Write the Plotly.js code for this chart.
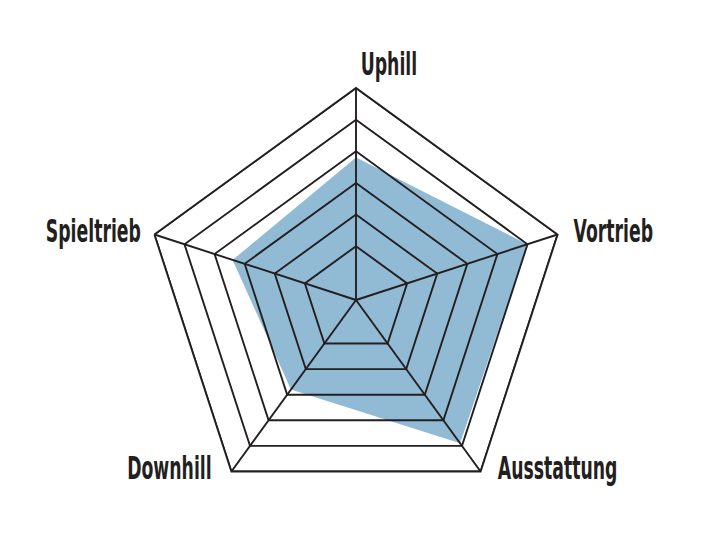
<!DOCTYPE html>
<html>
<head>
<meta charset="utf-8">
<script src="https://cdn.plot.ly/plotly-3.0.1.min.js"></script>
<style>
	html, body { margin: 0; padding: 0; background: #fff; }
	#chart { width: 712px; height: 545px; }
</style>
</head>
<body>
<div id="chart"></div>
<script>
// Ratings per category (rings 1..6)
const categories = ["Uphill", "Vortrieb", "Ausstattung", "Downhill", "Spieltrieb"];
const ratings = [3.8, 5.0, 4.9, 2.8, 3.4];
const levels = [1, 2, 3, 4, 5, 6];
const labelPos = ["top right", "middle right", "middle right", "middle left", "middle left"];
const labelGap = [6, 24, 26, 30, 20]; // invisible marker sizes push labels off the corners
const rMin = -0.7; // the centre sits a bit below ring 1
const rMax = 6;

const LINE = "#231f20";
const FONT = "'DejaVu Sans Condensed', 'Liberation Sans Narrow', sans-serif";
const squeeze = 0.6; // labels are set in a very narrow type

function closed(arr) {
	return arr.concat([arr[0]]);
}

const traces = [];

// shaded rating area, below the grid
traces.push({
	type: "scatterpolar",
	r: closed(ratings),
	theta: closed(categories),
	fill: "toself",
	fillcolor: "#91bad4",
	line: { width: 0, color: "#91bad4" },
	mode: "lines",
	hoverinfo: "skip",
	showlegend: false,
});

// rings drawn as traces so they sit above the fill
for (const lv of levels) {
	traces.push({
		type: "scatterpolar",
		r: closed(categories.map(() => lv)),
		theta: closed(categories),
		mode: "lines",
		line: { color: LINE, width: 1.9 },
		hoverinfo: "skip",
		showlegend: false,
	});
}

// spokes
const spokeR = [];
const spokeT = [];
for (const c of categories) {
	spokeR.push(rMin, rMax, null);
	spokeT.push(c, c, null);
}
traces.push({
	type: "scatterpolar",
	r: spokeR,
	theta: spokeT,
	mode: "lines",
	connectgaps: false,
	line: { color: LINE, width: 1.9 },
	hoverinfo: "skip",
	showlegend: false,
});

// category names beside the outer corners
traces.push({
	type: "scatterpolar",
	r: categories.map(() => rMax),
	theta: categories,
	mode: "markers+text",
	text: categories,
	textposition: labelPos,
	marker: { size: labelGap, opacity: 0 },
	textfont: { family: FONT, size: 32, weight: "bold", color: LINE },
	hoverinfo: "skip",
	showlegend: false,
	cliponaxis: false,
});

const layout = {
	width: 712,
	height: 545,
	margin: { t: 0, r: 0, b: 0, l: 0 },
	paper_bgcolor: "#fff",
	showlegend: false,
	font: { family: FONT, color: LINE },
	polar: {
		domain: { x: [0.2022, 0.7978], y: [0.0606, 0.8385] },
		bgcolor: "#fff",
		gridshape: "linear",
		radialaxis: {
			visible: false,
			range: [rMin, rMax],
		},
		angularaxis: {
			type: "category",
			categoryarray: categories,
			rotation: 90,
			direction: "clockwise",
			showgrid: false,
			showline: true,
			linecolor: LINE,
			linewidth: 1.9,
			ticks: "",
			showticklabels: false,
		},
	},
};

Plotly.newPlot("chart", traces, layout, { displayModeBar: false, staticPlot: true }).then(gd => {
	// squeeze the label glyphs horizontally
	gd.querySelectorAll(".textpoint text").forEach(t => {
		const w = t.getComputedTextLength();
		t.setAttribute("textLength", (w * squeeze).toFixed(1));
		t.setAttribute("lengthAdjust", "spacingAndGlyphs");
	});
});
</script>
</body>
</html>
